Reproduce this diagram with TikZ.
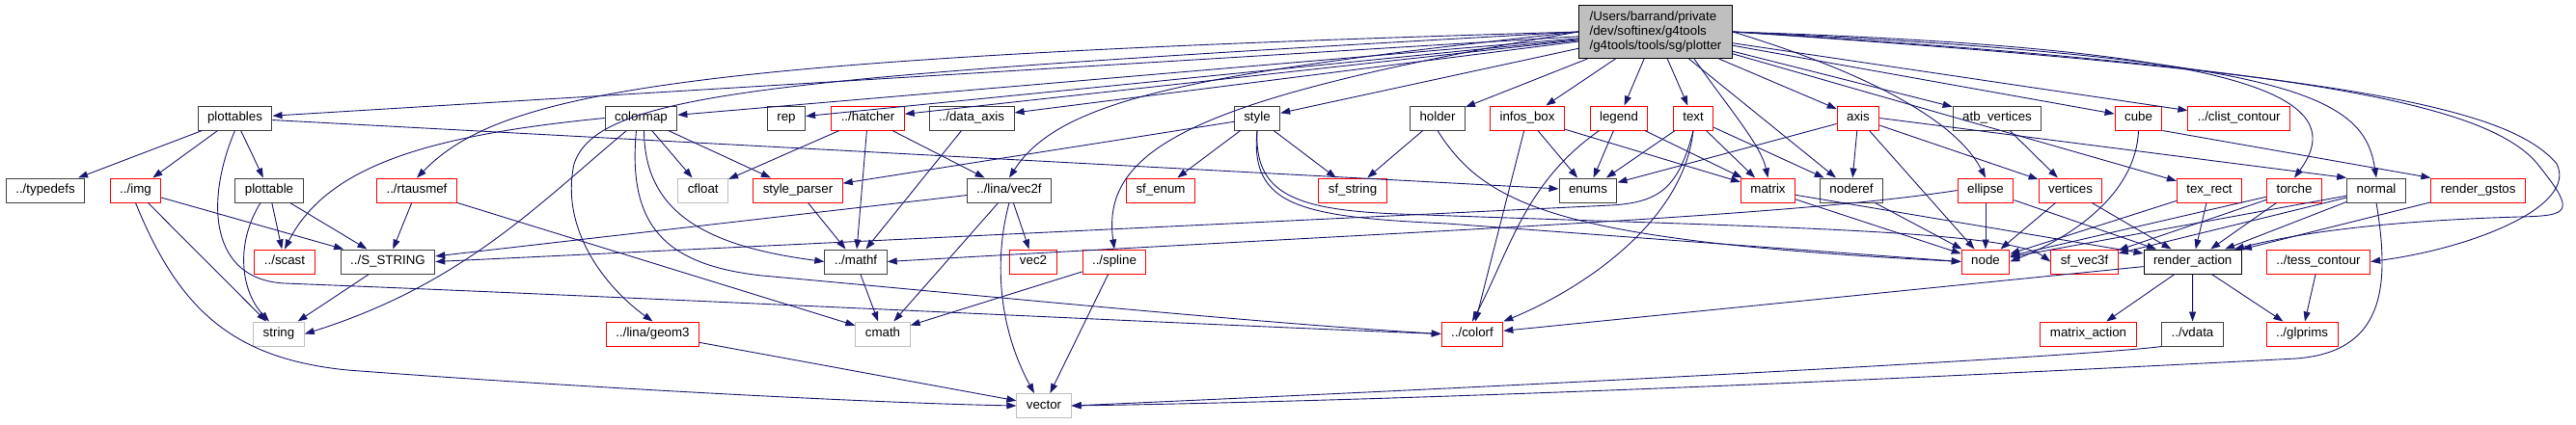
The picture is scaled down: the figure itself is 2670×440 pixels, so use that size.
\documentclass[tikz,border=0pt]{standalone}
\usepackage{fontspec}
\setmainfont{Liberation Sans}
\usetikzlibrary{arrows.meta}
\definecolor{edgeblue}{RGB}{25,25,112}
\definecolor{boxgray}{RGB}{191,191,191}
\newcommand\dxfont{\fontsize{13.3}{15.3}\selectfont}

\begin{document}
\begin{tikzpicture}[x=1pt,y=-1pt,
  dbox/.style={draw=black!75, line width=1pt, fill=white, font=\dxfont,
    inner xsep=10pt, inner ysep=0pt},
  incl/.style={dbox, minimum height=25pt, text height=9.6pt, text depth=2.8pt},
  trunc/.style={incl, draw=red},
  sysinc/.style={incl, draw=boxgray},
  dep/.style={draw=edgeblue, line width=0.9pt, -{Triangle[length=10pt,width=7pt]}}]
\useasboundingbox (0,0) rectangle (2670,440);

% Root file
\node[dbox, draw=black, fill=boxgray, align=left, minimum width=159pt,
  minimum height=55pt] (root) at (1716,33)
  {/Users/barrand/private\\/dev/softinex/g4tools\\/g4tools/tools/sg/plotter};

% Row 1
\node[incl]  (plottables) at (243.5,122.5) {plottables};
\node[incl]  (colormap)   at (664.5,122.5) {colormap};
\node[incl]  (rep)        at (815,122.5)   {rep};
\node[trunc] (hatcher)    at (899.5,122.5) {../hatcher};
\node[incl]  (dataaxis)   at (1007,122.5)  {../data\_axis};
\node[incl]  (style)      at (1303,122.5)  {style};
\node[incl]  (holder)     at (1490,122.5)  {holder};
\node[trunc] (infosbox)   at (1583,122.5)  {infos\_box};
\node[trunc] (legend)     at (1678,122.5)  {legend};
\node[trunc] (text)       at (1755,122.5)  {text};
\node[trunc] (axis)       at (1926,122.5)  {axis};
\node[incl]  (atbvertices) at (2070,122.5) {atb\_vertices};
\node[trunc] (cube)       at (2216.5,122.5) {cube};
\node[trunc] (clist)      at (2320.7,122.5) {../clist\_contour};

% Row 2
\node[incl]   (typedefs)    at (47,197.5)    {../typedefs};
\node[trunc]  (img)         at (140.5,197.5) {../img};
\node[incl]   (plottable)   at (279,197.5)   {plottable};
\node[trunc]  (rtausmef)    at (432,197.5)   {../rtausmef};
\node[sysinc] (cfloat)      at (728.7,197.5) {cfloat};
\node[trunc]  (styleparser) at (827,197.5)   {style\_parser};
\node[incl]   (vecf)        at (1046,197.5)  {../lina/vec2f};
\node[trunc]  (sfenum)      at (1203,197.5)  {sf\_enum};
\node[trunc]  (sfstring)    at (1402,197.5)  {sf\_string};
\node[incl]   (enums)       at (1646,197.5)  {enums};
\node[trunc]  (matrix)      at (1832.5,197.5) {matrix};
\node[incl]   (noderef)     at (1919,197.5)  {noderef};
\node[trunc]  (ellipse)     at (2058,197.5)  {ellipse};
\node[trunc]  (vertices)    at (2146,197.5)  {vertices};
\node[trunc]  (texrect)     at (2290,197.5)  {tex\_rect};
\node[trunc]  (torche)      at (2378,197.5)  {torche};
\node[incl]   (normal)      at (2463,197.5)  {normal};
\node[trunc]  (gstos)       at (2568.7,197.5) {render\_gstos};

% Row 3
\node[trunc] (scast)   at (295,271.5)    {../scast};
\node[incl]  (sstring) at (402,271.5)    {../S\_STRING};
\node[incl]  (mathf)   at (887,271.5)    {../mathf};
\node[trunc] (vectwo)  at (1071,271.5)   {vec2};
\node[trunc] (spline)  at (1155,271.5)   {../spline};
\node[trunc] (sgnode)  at (2058,271.5)   {node};
\node[trunc] (sfvec)   at (2160.5,271.5) {sf\_vec3f};
\node[incl, draw=black] (raction) at (2272.7,271.5) {render\_action};
\node[trunc] (tess)    at (2403,271.5)   {../tess\_contour};

% Row 4
\node[sysinc] (string)       at (289,346.5)    {string};
\node[trunc]  (geom3)        at (676.5,346.5)  {../lina/geom3};
\node[sysinc] (cmath)        at (915,346.5)    {cmath};
\node[trunc]  (colorf)       at (1526,346.5)   {../colorf};
\node[trunc]  (matrixaction) at (2164.5,346.5) {matrix\_action};
\node[incl]   (vdata)        at (2272.5,346.5) {../vdata};
\node[trunc]  (glprims)      at (2386,346.5)   {../glprims};

% Row 5
\node[sysinc] (vector) at (1082,421) {vector};

% Straight include edges
\foreach \a/\b in {root/plottables, root/colormap, root/rep, root/hatcher,
  root/dataaxis, root/style, root/holder, root/infosbox, root/legend,
  root/text, root/noderef, root/axis, root/atbvertices, root/cube,
  root/clist, root/texrect,
  plottables/typedefs, plottables/img, plottables/plottable, plottables/enums,
  img/sstring, img/string, plottable/scast, plottable/sstring,
  rtausmef/sstring, rtausmef/cmath, sstring/string,
  colormap/cfloat, colormap/styleparser,
  hatcher/cfloat, hatcher/mathf, hatcher/vecf, dataaxis/mathf,
  styleparser/mathf, mathf/cmath,
  vecf/sstring, vecf/cmath, vecf/vectwo, spline/cmath, spline/vector,
  geom3/vector,
  style/styleparser, style/sfenum, style/sfstring, holder/sfstring,
  infosbox/enums, infosbox/matrix, infosbox/colorf, legend/enums,
  legend/matrix, text/enums, text/matrix, text/noderef,
  axis/enums, axis/noderef, axis/sgnode, axis/vertices,
  atbvertices/vertices, matrix/sgnode, matrix/raction, noderef/sgnode,
  ellipse/sgnode, ellipse/raction, vertices/sgnode, vertices/raction,
  texrect/sgnode, texrect/raction, torche/sgnode, torche/sfvec,
  torche/raction, normal/sgnode, normal/sfvec, normal/raction,
  gstos/raction, raction/matrixaction, raction/vdata, raction/glprims,
  raction/colorf, tess/glprims}
  \draw[dep] (\a) -- (\b);

% Curved edges from the root
\draw[dep] (root.west) .. controls (700,60) and (520,95) .. (rtausmef.north);
\draw[dep] (root.west) .. controls (800,80) and (620,95) .. (595,170)
  .. controls (580,240) and (630,300) .. (geom3.north);
\draw[dep] (root.west) .. controls (1250,75) and (1100,100) .. (vecf.north);
\draw[dep] (root.west) .. controls (1250,100) and (1140,150) .. (spline.north);
\draw[dep] ([xshift=40pt]root.south) .. controls (1790,110) and (1825,150) .. (matrix.north);
\draw[dep] (root.east) .. controls (1950,80) and (2030,130) .. (ellipse.north);
\draw[dep] (root.east) .. controls (2330,50) and (2440,100) .. (torche.north);
\draw[dep] (root.east) .. controls (2380,60) and (2450,100) .. (normal.north);
\draw[dep] (root.east) .. controls (2400,70) and (2580,110) .. (2630,170)
  .. controls (2670,220) and (2665,224) .. (2610,225)
  .. controls (2450,230) and (2370,245) .. ([xshift=-8pt]raction.north east);
\draw[dep] (root.east) .. controls (2420,75) and (2600,110) .. (2650,170)
  .. controls (2672,215) and (2560,258) .. (tess.east);

% Other curved edges
\draw[dep] (plottables.south) .. controls (212,210) and (218,290) .. (295,294)
  .. controls (700,310) and (1200,335) .. (colorf.west);
\draw[dep] (img.south) .. controls (185,320) and (240,372) .. (360,384)
  .. controls (600,402) and (900,418) .. (vector.west);
\draw[dep] ([xshift=-9pt]plottable.south) .. controls (245,250) and (248,300) .. ([xshift=-10pt]string.north);
\draw[dep] (colormap.west) .. controls (450,140) and (340,170) .. (scast.north);
\draw[dep] ([xshift=-15pt]colormap.south) .. controls (560,210) and (480,295) .. (string.east);
\draw[dep] ([xshift=-5pt]colormap.south) .. controls (650,235) and (690,275) .. (790,286)
  .. controls (1000,305) and (1300,335) .. (colorf.west);
\draw[dep] ([xshift=3pt]colormap.south) .. controls (668,220) and (730,255) .. (mathf.west);
\draw[dep] (vecf.south) .. controls (1030,270) and (1035,340) .. ([xshift=-10pt]vector.north);
\draw[dep] (style.south) .. controls (1295,215) and (1350,225) .. (1500,232) -- (sgnode.west);
\draw[dep] (style.south) .. controls (1300,200) and (1340,218) .. (1450,222)
  .. controls (1800,235) and (2080,238) .. (sfvec.west);
\draw[dep] (holder.south) .. controls (1540,215) and (1620,250) .. (sgnode.west);
\draw[dep] ([xshift=10pt]legend.south west) .. controls (1580,190) and (1565,260) .. (colorf.north);
\draw[dep] (text.south) .. controls (1745,230) and (1640,300) .. (colorf.north east);
\draw[dep] (text.south) .. controls (1740,195) and (1720,210) .. (1670,213) -- (sstring.east);
\draw[dep] (ellipse.west) .. controls (1850,225) and (1500,238) .. (mathf.east);
\draw[dep] (cube.south) .. controls (2214,200) and (2150,245) .. (sgnode.east);
\draw[dep] (cube.south east) -- (gstos.north west);
\draw[dep] (axis.east) -- (normal.north west);
\draw[dep] (normal.south) .. controls (2478,300) and (2470,365) .. (2380,372)
  .. controls (2000,392) and (1500,415) .. (vector.east);
\draw[dep] (vdata.south west) .. controls (2180,368) and (1700,395) .. (vector.east);
\end{tikzpicture}
\end{document}
